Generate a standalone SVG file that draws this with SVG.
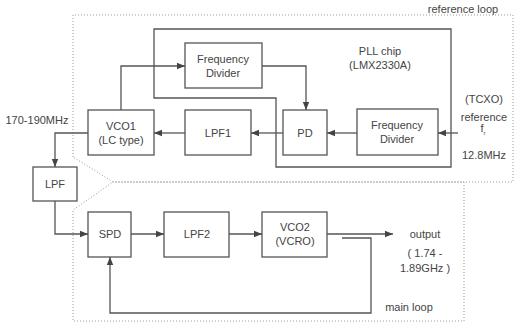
<svg xmlns="http://www.w3.org/2000/svg" width="515" height="323" viewBox="0 0 515 323">
<defs>
<style>
.box{fill:none;stroke:#555;stroke-width:1.3}
.ln{fill:none;stroke:#555;stroke-width:1.3}
.dot{fill:none;stroke:#999;stroke-width:1;stroke-dasharray:1 2}
text{font-family:"Liberation Sans",Arial,sans-serif;font-size:11px;fill:#444;text-anchor:middle}
</style>
<marker id="ah" viewBox="0 0 10 10" refX="10" refY="5" markerWidth="8" markerHeight="8" orient="auto" markerUnits="userSpaceOnUse">
<path d="M0,1 L10,5 L0,9 Z" fill="#444"/>
</marker>
</defs>
<rect width="515" height="323" fill="#fff"/>
<g id="loops">
<path class="dot" d="M73,157 L73,15 L513,15 L513,182 L113,182 Z"/>
<path class="dot" d="M113,182 L464,182 L464,321 L73,321 L73,210 Z"/>
<text x="463" y="13">reference loop</text>
<text x="409" y="311">main loop</text>
</g>
<g id="pll-chip">
<path class="box" d="M154,29 L451,29 L451,167 L276,167 L276,98 L154,98 Z"/>
<text x="380" y="55">PLL chip</text>
<text x="380" y="69">(LMX2330A)</text>
</g>
<g id="freq-div-top"><rect class="box" x="185" y="43" width="77" height="45"/><text x="223" y="63">Frequency</text><text x="223" y="77">Divider</text></g>
<g id="vco1"><rect class="box" x="88" y="110" width="66" height="45"/><text x="121" y="130">VCO1</text><text x="121" y="144">(LC type)</text></g>
<g id="lpf1"><rect class="box" x="185" y="110" width="66" height="45"/><text x="218" y="137">LPF1</text></g>
<g id="pd"><rect class="box" x="283" y="110" width="44" height="45"/><text x="305" y="137">PD</text></g>
<g id="freq-div-right"><rect class="box" x="357" y="109" width="81" height="46"/><text x="397" y="129">Frequency</text><text x="397" y="143">Divider</text></g>
<g id="tcxo"><text x="484" y="103">(TCXO)</text><text x="484" y="121">reference</text><text x="483" y="132">f<tspan font-size="6" dy="3">r</tspan></text><text x="484" y="159">12.8MHz</text></g>
<g id="lpf"><rect class="box" x="33" y="167" width="44" height="34"/><text x="55" y="188">LPF</text></g>
<g id="spd"><rect class="box" x="88" y="212" width="43" height="45"/><text x="110" y="238">SPD</text></g>
<g id="lpf2"><rect class="box" x="164" y="212" width="65" height="45"/><text x="197" y="238">LPF2</text></g>
<g id="vco2"><rect class="box" x="262" y="212" width="65" height="45"/><text x="295" y="231">VCO2</text><text x="295" y="245">(VCRO)</text></g>
<g id="output"><text x="425" y="238">output</text><text x="425" y="257">( 1.74 -</text><text x="425" y="272">1.89GHz )</text></g>
<text x="37" y="124">170-190MHz</text>
<g id="connectors">
<path class="ln" d="M458,133 L438,133" marker-end="url(#ah)"/>
<path class="ln" d="M357,133 L327,133" marker-end="url(#ah)"/>
<path class="ln" d="M283,133 L251,133" marker-end="url(#ah)"/>
<path class="ln" d="M185,133 L154,133" marker-end="url(#ah)"/>
<path class="ln" d="M121,110 L121,66 L185,66" marker-end="url(#ah)"/>
<path class="ln" d="M262,66 L306,66 L306,110" marker-end="url(#ah)"/>
<path class="ln" d="M88,133 L55,133 L55,167" marker-end="url(#ah)"/>
<path class="ln" d="M55,201 L55,234 L88,234" marker-end="url(#ah)"/>
<path class="ln" d="M131,234 L164,234" marker-end="url(#ah)"/>
<path class="ln" d="M229,234 L262,234" marker-end="url(#ah)"/>
<path class="ln" d="M327,234 L393,234" marker-end="url(#ah)"/>
<path class="ln" d="M342,238 L371,238 L371,313 L110,313 L110,257" marker-end="url(#ah)"/>
</g>
</svg>
